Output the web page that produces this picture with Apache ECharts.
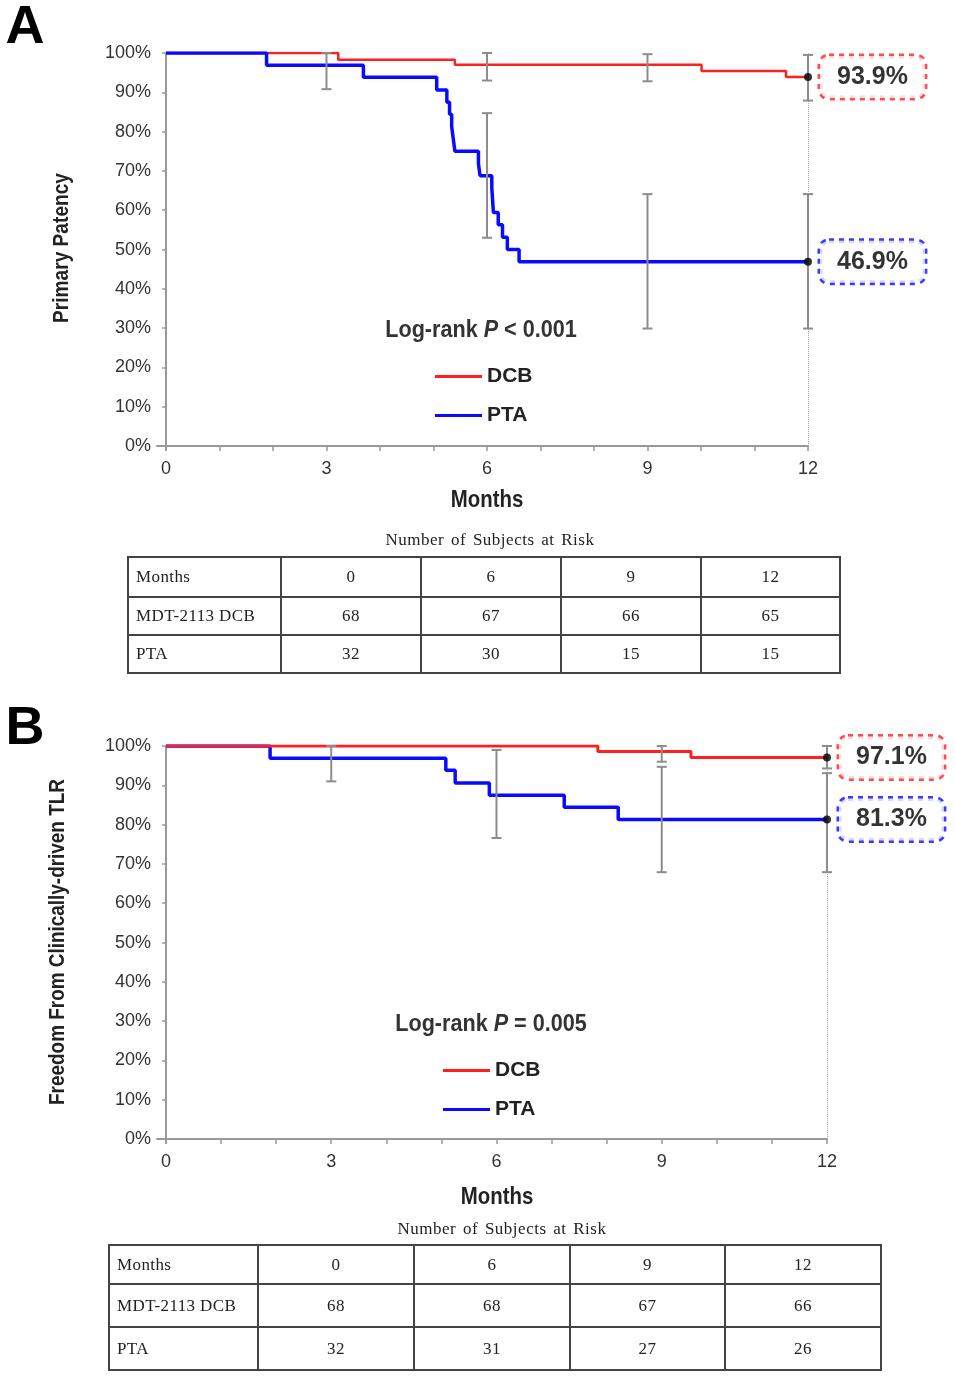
<!DOCTYPE html>
<html><head><meta charset="utf-8">
<script src="https://cdn.jsdelivr.net/npm/echarts@6/dist/echarts.min.js"></script>
<style>
html,body{margin:0;padding:0;background:#fff;}
#chart{position:absolute;left:0;top:0;width:955px;height:1378px;}
.risk{position:absolute;border-collapse:collapse;table-layout:fixed;font-family:"Liberation Serif","DejaVu Serif",serif;font-size:17px;letter-spacing:0.4px;color:#222;}
.risk td{border:2px solid #444;text-align:center;padding:0;}
.risk td.lab{text-align:left;padding-left:7px;}
.rtitle{position:absolute;font-family:"Liberation Serif","DejaVu Serif",serif;font-size:17px;letter-spacing:0.5px;word-spacing:2px;color:#222;transform:translate(-50%,-50%);white-space:nowrap;}
</style></head>
<body><div id="chart"></div>
<script>
// ---------- DATA ----------
// Panel A: Primary Patency (Kaplan-Meier steps: month, survival %)
const monthsA_DCB = [0, 3.22, 5.40, 10.01, 11.59, 12];
const survA_DCB   = [100, 98.3, 97.0, 95.4, 93.9, 93.9];
const monthsA_PTA = [0, 1.88, 3.69, 5.06, 5.25, 5.30, 5.34, 5.37, 5.40, 5.84, 5.87, 6.09, 6.12, 6.21, 6.29, 6.38, 6.60, 12];
const survA_PTA   = [100, 96.9, 93.8, 90.6, 87.5, 84.4, 81.3, 78.1, 75.0, 71.9, 68.8, 65.6, 59.4, 56.3, 53.1, 50.0, 46.9, 46.9];
// error bars: [month, low, high]
const errA = [[3, 90.8, 100], [6, 93.0, 100], [6, 53.0, 84.7], [9, 92.8, 99.7], [9, 29.9, 64.1], [12, 87.9, 99.5], [12, 29.9, 64.1]];
const endA_DCB = 93.9, endA_PTA = 46.9;

// Panel B: Freedom from clinically-driven TLR
const monthsB_DCB = [0, 7.84, 9.53, 12];
const survB_DCB   = [100, 98.6, 97.1, 97.1];
const monthsB_PTA = [0, 1.89, 5.08, 5.25, 5.87, 7.23, 8.21, 12];
const survB_PTA   = [100, 96.9, 93.8, 90.6, 87.5, 84.4, 81.3, 81.3];
const errB = [[3, 91.0, 100], [6, 76.6, 99.0], [9, 96.0, 100], [9, 67.9, 94.7], [12, 94.3, 100], [12, 67.9, 93.1]];
const endB_DCB = 97.1, endB_PTA = 81.3;

const xLabelValues = [0, 3, 6, 9, 12];
const xTickValues = [0,1,2,3,4,5,6,7,8,9,10,11,12];
const yTickValues = [0,10,20,30,40,50,60,70,80,90,100];

// Risk tables
const riskMonths = ['0', '6', '9', '12'];
const riskRowLabels = ['Months', 'MDT-2113 DCB', 'PTA'];
const riskA_DCB = [68, 67, 66, 65];
const riskA_PTA = [32, 30, 15, 15];
const riskB_DCB = [68, 68, 67, 66];
const riskB_PTA = [32, 31, 27, 26];

const pValueA = '< 0.001';
const pValueB = '= 0.005';

// ---------- CHART ----------
const FONT = '"Liberation Sans",Arial,sans-serif';
const RED = '#ff1f1f', BLUE = '#0a0aff', GRAY = '#8c8c8c';

function zip(a, b) { return a.map((v, i) => [v, b[i]]); }

function xAxisCfg(gi, min) {
  return {
    type: 'value', gridIndex: gi, min: min, max: 12,
    axisLine: {show: true, lineStyle: {color: '#999', width: 2}},
    axisTick: {show: true, customValues: xTickValues, length: 5, lineStyle: {color: '#999', width: 1.5}},
    axisLabel: {customValues: xLabelValues, fontFamily: FONT, fontSize: 18, color: '#333', margin: 10},
    splitLine: {show: false}
  };
}
function yAxisCfg(gi) {
  return {
    type: 'value', gridIndex: gi, min: -1, max: 100,
    axisLine: {show: true, lineStyle: {color: '#999', width: 2}},
    axisTick: {show: true, customValues: yTickValues, length: 4, lineStyle: {color: '#999', width: 1.5}},
    axisLabel: {customValues: yTickValues, formatter: v => v + '%', fontFamily: FONT, fontSize: 18, color: '#333', margin: 6},
    splitLine: {show: false}
  };
}
function errRender(params, api) {
  const x = api.value(0), lo = api.value(1), hi = api.value(2);
  const p1 = api.coord([x, hi]), p2 = api.coord([x, lo]);
  const w = 5;
  const style = {stroke: GRAY, lineWidth: 2};
  return {type: 'group', children: [
    {type: 'line', shape: {x1: p1[0], y1: p1[1], x2: p2[0], y2: p2[1]}, style: style},
    {type: 'line', shape: {x1: p1[0]-w, y1: p1[1], x2: p1[0]+w, y2: p1[1]}, style: style},
    {type: 'line', shape: {x1: p2[0]-w, y1: p2[1], x2: p2[0]+w, y2: p2[1]}, style: style}
  ]};
}
function lineSeries(name, gi, xs, ys, color, width, z) {
  return {name: name, type: 'line', step: 'end', xAxisIndex: gi, yAxisIndex: gi,
    data: zip(xs, ys), symbol: 'none', lineStyle: {color: color, width: width}, itemStyle: {color: color},
    z: z, silent: true, animation: false};
}
function endLabel(color) {
  return {show: true, position: 'right', distance: 8, formatter: p => p.value[1].toFixed(1) + '%',
    fontFamily: FONT, fontWeight: 'bold', fontSize: 25, color: '#000',
    lineHeight: 30, padding: [6, 17],
    backgroundColor: '#fff', borderColor: color, borderWidth: 2.5, borderType: 'dotted', borderRadius: 9};
}
function endSeries(gi, vDcb, vPta) {
  return {type: 'scatter', xAxisIndex: gi, yAxisIndex: gi, symbolSize: 8, itemStyle: {color: '#000'}, z: 10,
    data: [{value: [12, vDcb], label: endLabel(RED)}, {value: [12, vPta], label: endLabel(BLUE)}],
    markLine: {symbol: 'none', silent: true, label: {show: false}, animation: false,
      lineStyle: {type: 'dotted', color: '#aaa', width: 1}, data: [{xAxis: 12}]},
    animation: false};
}
function errSeries(gi, data) {
  return {type: 'custom', xAxisIndex: gi, yAxisIndex: gi, renderItem: errRender, data: data,
    encode: {x: 0, y: [1, 2]}, z: 5, silent: true, animation: false};
}
function legendCfg(left, top) {
  return {left: left, top: top, padding: 0, orient: 'vertical', data: ['DCB', 'PTA'], icon: 'rect',
    itemWidth: 47, itemHeight: 3, itemGap: 18, selectedMode: false,
    textStyle: {fontFamily: FONT, fontWeight: 'bold', fontSize: 21, color: '#222'}};
}
function logRank(x, y, p) {
  return {type: 'text', x: x, y: y, scaleX: 0.9, style: {
    text: '{n|Log-rank }{i|P}{n| ' + p + '}', align: 'center', verticalAlign: 'middle',
    rich: {n: {fontFamily: FONT, fontWeight: 'bold', fontSize: 24, fill: '#333', color: '#333'},
           i: {fontFamily: FONT, fontWeight: 'bold', fontStyle: 'italic', fontSize: 24, fill: '#333', color: '#333'}}}};
}
function plainText(txt, x, y, size, extra, styleOpts) {
  return Object.assign({type: 'text', x: x, y: y, style: Object.assign({
    text: txt, fontFamily: FONT, fontWeight: 'bold', fontSize: size, fill: '#222',
    align: 'center', verticalAlign: 'middle'}, styleOpts || {})}, extra || {});
}

const chart = echarts.init(document.getElementById('chart'), null, {renderer: 'canvas'});
chart.setOption({
  animation: false,
  backgroundColor: '#fff',
  grid: [
    {left: 157, top: 53, width: 651, height: 397},
    {left: 157, top: 746, width: 670, height: 397}
  ],
  xAxis: [xAxisCfg(0, -0.168), xAxisCfg(1, -0.163)],
  yAxis: [yAxisCfg(0), yAxisCfg(1)],
  legend: [legendCfg(435, 366), legendCfg(443, 1060)],
  series: [
    lineSeries('DCB', 0, monthsA_DCB, survA_DCB, RED, 2.5, 3),
    lineSeries('PTA', 0, monthsA_PTA, survA_PTA, BLUE, 3.5, 4),
    errSeries(0, errA),
    endSeries(0, endA_DCB, endA_PTA),
    lineSeries('PTA', 1, monthsB_PTA, survB_PTA, BLUE, 3.5, 3),
    lineSeries('DCB', 1, monthsB_DCB, survB_DCB, RED, 3, 4),
    errSeries(1, errB),
    endSeries(1, endB_DCB, endB_PTA)
  ],
  graphic: [
    plainText('A', 25, 28, 54, null, {fill: '#000'}),
    plainText('B', 25, 729, 54, null, {fill: '#000'}),
    plainText('Primary Patency', 62, 248, 22, {rotation: Math.PI / 2, scaleX: 0.87}),
    plainText('Freedom From Clinically-driven TLR', 58, 942, 22, {rotation: Math.PI / 2, scaleX: 0.86}),
    plainText('Months', 487, 500, 24, {scaleX: 0.85}),
    plainText('Months', 497, 1197, 24, {scaleX: 0.85}),
    logRank(481, 330, pValueA),
    logRank(491, 1024, pValueB)
  ]
});

// ---------- RISK TABLES ----------
function buildTable(left, top, colW, rowH, dcb, pta, titleX, titleY) {
  const t = document.createElement('table');
  t.className = 'risk';
  t.style.left = left + 'px'; t.style.top = top + 'px';
  const cg = document.createElement('colgroup');
  colW.forEach(w => { const c = document.createElement('col'); c.style.width = w + 'px'; cg.appendChild(c); });
  t.appendChild(cg);
  const rows = [riskMonths, dcb, pta];
  rows.forEach((vals, r) => {
    const tr = document.createElement('tr');
    tr.style.height = rowH[r] + 'px';
    const l = document.createElement('td'); l.className = 'lab'; l.textContent = riskRowLabels[r]; tr.appendChild(l);
    vals.forEach(v => { const td = document.createElement('td'); td.textContent = v; tr.appendChild(td); });
    t.appendChild(tr);
  });
  document.body.appendChild(t);
  const d = document.createElement('div');
  d.className = 'rtitle'; d.textContent = 'Number of Subjects at Risk';
  d.style.left = titleX + 'px'; d.style.top = titleY + 'px';
  document.body.appendChild(d);
}
buildTable(127, 556, [153, 140, 140, 140, 139], [40, 38, 38], riskA_DCB, riskA_PTA, 490, 540);
buildTable(108, 1244, [149, 156, 156, 155, 156], [39, 43, 43], riskB_DCB, riskB_PTA, 502, 1229);
</script>
</body></html>
